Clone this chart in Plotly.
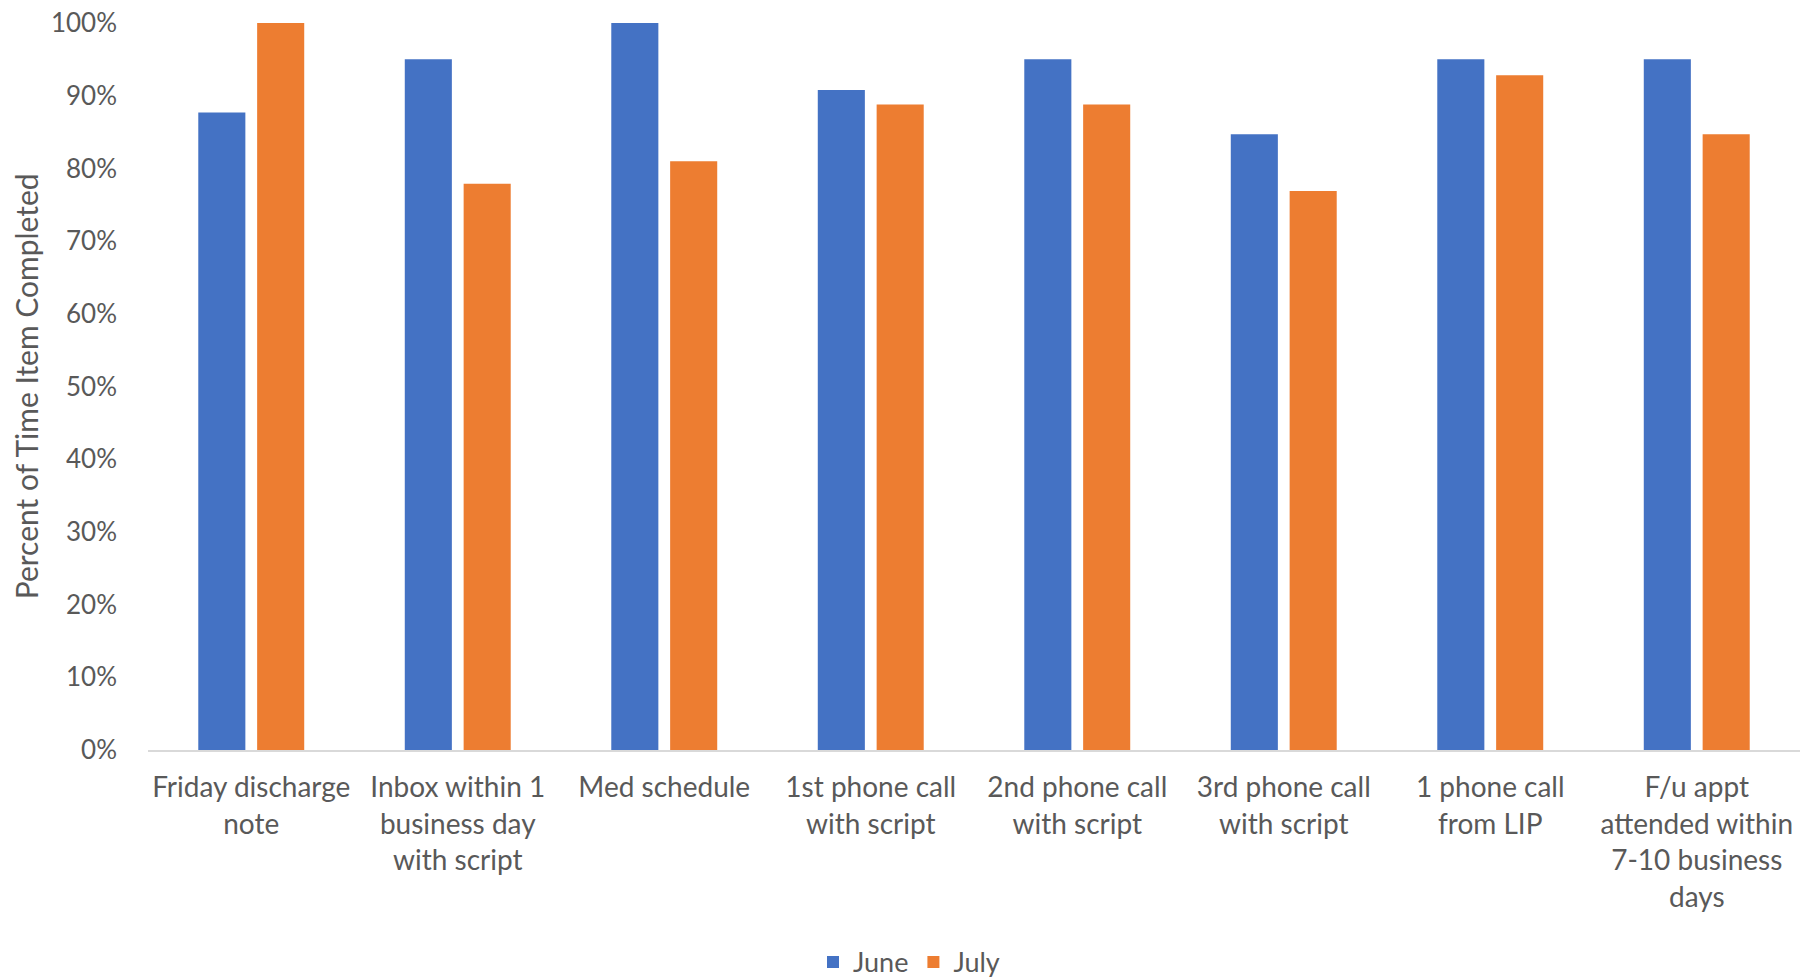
import plotly.graph_objects as go

categories = [
    "Friday discharge<br>note",
    "Inbox within 1<br>business day<br>with script",
    "Med schedule",
    "1st phone call<br>with script",
    "2nd phone call<br>with script",
    "3rd phone call<br>with script",
    "1 phone call<br>from LIP",
    "F/u appt<br>attended within<br>7-10 business<br>days",
]
june = [0.877, 0.95, 1.00, 0.908, 0.95, 0.847, 0.95, 0.95]
july = [1.00, 0.779, 0.81, 0.888, 0.888, 0.769, 0.928, 0.847]
y_ticks = [0, 0.1, 0.2, 0.3, 0.4, 0.5, 0.6, 0.7, 0.8, 0.9, 1.0]

FONT = "Lato"
GRAY = "#595959"
FS = 26

fig = go.Figure()
fig.add_trace(go.Bar(name="June", x=categories, y=june, marker=dict(color="#4472C4", line=dict(width=0))))
fig.add_trace(go.Bar(name="July", x=categories, y=july, marker=dict(color="#ED7D31", line=dict(width=0))))

fig.update_layout(
    width=1818, height=977,
    margin=dict(l=148, r=18, t=23, b=227),
    paper_bgcolor="white", plot_bgcolor="white",
    barmode="group", bargap=0.43, bargroupgap=0.2,
    font=dict(family=FONT, size=FS, color=GRAY),
    showlegend=True,
    legend=dict(orientation="h", xref="container", yref="container", x=0.5, y=0.015,
                xanchor="center", yanchor="middle", font=dict(size=27, color=GRAY),
                itemwidth=30, tracegroupgap=0),
    xaxis=dict(showline=True, linecolor="#D9D9D9", linewidth=1.5, showgrid=False,
               ticks="", tickangle=0, ticklabelstandoff=12, automargin=False,
               tickfont=dict(family=FONT, size=28, color=GRAY)),
    yaxis=dict(range=[0, 1], tickvals=y_ticks, tickformat=".0%", showgrid=False,
               showline=False, zeroline=False, ticks="", ticklabelstandoff=30,
               automargin=False, tickfont=dict(family=FONT, size=FS, color=GRAY)),
    annotations=[dict(text="Percent of Time Item Completed", xref="paper", yref="paper",
                      x=-0.074, y=0.5, textangle=-90, showarrow=False,
                      xanchor="center", yanchor="middle",
                      font=dict(family=FONT, size=30, color=GRAY))],
)

fig.write_html("out.html")
